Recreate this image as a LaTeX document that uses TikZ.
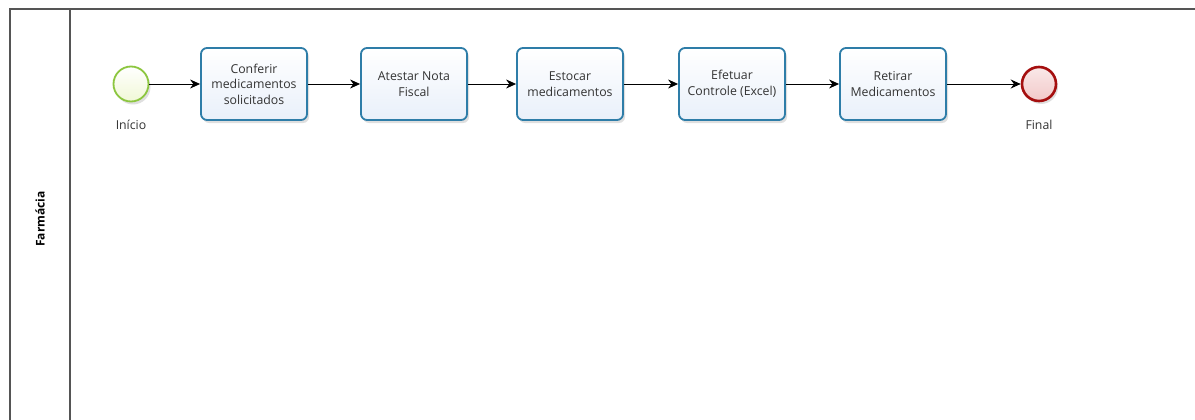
\documentclass[tikz,border=0pt]{standalone}
\usepackage{fontspec}
\setmainfont{Open Sans}
\usetikzlibrary{arrows.meta,shadows,positioning}
\definecolor{taskblue}{HTML}{2E7DA8}
\definecolor{taskfill}{HTML}{E9F0FA}
\definecolor{startgreen}{HTML}{8CC63F}
\definecolor{startfill}{HTML}{F0F8D6}
\definecolor{endred}{HTML}{A50F0F}
\definecolor{endfill}{HTML}{F2C8C8}
\definecolor{poolline}{HTML}{555555}
\definecolor{labelgray}{HTML}{333333}
\tikzset{
  x=1pt, y=-1pt,
  taskbox/.style={draw=taskblue, line width=1.8pt, rounded corners=6pt,
    top color=white, bottom color=taskfill, minimum width=106pt, minimum height=72pt,
    align=center, font=\fontsize{12.3}{15.5}\selectfont, text=labelgray, inner sep=2pt,
    drop shadow={shadow xshift=2pt, shadow yshift=-3pt, opacity=0.25}},
  startev/.style={circle, draw=startgreen, line width=1.8pt, top color=white, bottom color=startfill,
    minimum size=35pt, inner sep=0pt,
    drop shadow={shadow xshift=2pt, shadow yshift=-3pt, opacity=0.25}},
  endev/.style={circle, draw=endred, line width=2.6pt, top color=white!60!endfill, bottom color=endfill,
    minimum size=34pt, inner sep=0pt,
    drop shadow={shadow xshift=2pt, shadow yshift=-3pt, opacity=0.25}},
  evlabel/.style={font=\fontsize{12.3}{15}\selectfont, text=labelgray},
  flow/.style={draw=black, line width=0.9pt, -{Stealth[length=10pt,width=9pt]}},
  poolbox/.style={draw=poolline, line width=1.2pt}
}
\begin{document}
\begin{tikzpicture}
\useasboundingbox (0,0) rectangle (1195,420);
\fill[white] (0,0) rectangle (1195,420);
% pool
\draw[poolbox] (10,430) -- (10,9) -- (1200,9);
\draw[poolbox] (70,9) -- (70,430);
\node[rotate=90, font=\bfseries\fontsize{12}{14}\selectfont, text=black] (lane) at (40,219) {Farmácia};
% events
\node[startev] (start) at (131,84) {};
\node[evlabel] (startlbl) at (131,125) {Início};
\node[endev] (end) at (1039,84) {};
\node[evlabel] (endlbl) at (1039,125) {Final};
% tasks
\node[taskbox] (t1) at (254,84) {Conferir\\medicamentos\\solicitados};
\node[taskbox] (t2) at (414,84) {Atestar Nota\\Fiscal};
\node[taskbox] (t3) at (570,84) {Estocar\\medicamentos};
\node[taskbox] (t4) at (732,84) {Efetuar\\Controle (Excel)};
\node[taskbox] (t5) at (893,84) {Retirar\\Medicamentos};
% flows
\draw[flow] (start) -- (t1);
\draw[flow] (t1) -- (t2);
\draw[flow] (t2) -- (t3);
\draw[flow] (t3) -- (t4);
\draw[flow] (t4) -- (t5);
\draw[flow] (t5) -- (end);
\end{tikzpicture}
\end{document}
